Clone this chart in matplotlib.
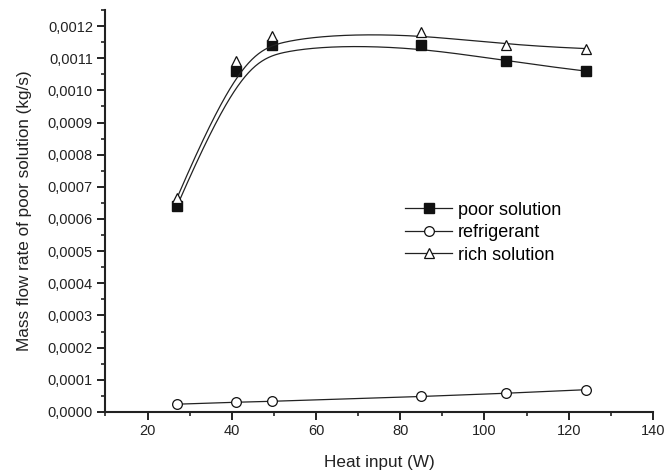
import matplotlib
matplotlib.use("Agg")
import matplotlib.pyplot as plt
import numpy as np
from matplotlib.ticker import MultipleLocator, FuncFormatter

plt.rcParams['font.family'] = ['Liberation Sans', 'DejaVu Sans']

heat_input = [27, 41, 49.5, 85, 105, 124]
poor_solution = [0.00064, 0.00106, 0.00114, 0.00114, 0.00109, 0.00106]
refrigerant = [0.000024, 0.000030, 0.000033, 0.000048, 0.000058, 0.000069]
rich_solution = [0.000665, 0.00109, 0.00117, 0.00118, 0.00114, 0.00113]


def bspline(x, y, n=400, deg=3):
    # clamped B-spline with the data points as control points (Origin style line)
    P = np.column_stack([x, y]).astype(float)
    k = len(P)
    knots = np.concatenate([np.zeros(deg), np.arange(k - deg + 1), np.full(deg, k - deg)]).astype(float)
    ts = np.linspace(0, k - deg, n)
    ts[-1] -= 1e-9

    def basis(i, p, t):
        if p == 0:
            return ((knots[i] <= t) & (t < knots[i + 1])).astype(float)
        out = np.zeros_like(t)
        d1 = knots[i + p] - knots[i]
        d2 = knots[i + p + 1] - knots[i + 1]
        if d1 > 0:
            out += (t - knots[i]) / d1 * basis(i, p - 1, t)
        if d2 > 0:
            out += (knots[i + p + 1] - t) / d2 * basis(i + 1, p - 1, t)
        return out

    B = np.array([basis(i, deg, ts) for i in range(k)])
    C = B.T @ P
    return C[:, 0], C[:, 1]


ink = '#222222'
fig, ax = plt.subplots(figsize=(6.67, 4.74), dpi=100)
fig.subplots_adjust(left=0.158, right=0.979, top=0.979, bottom=0.131)

xs, ys = bspline(heat_input, poor_solution)
ax.plot(xs, ys, color=ink, lw=0.9)
ax.plot(heat_input, poor_solution, ls='none', marker='s', ms=6.5, mfc='#111111', mec='#111111')
ax.plot([], [], color=ink, lw=0.9, marker='s', ms=6.5, mfc='#111111', mec='#111111', label='poor solution')

ax.plot(heat_input, refrigerant, color=ink, lw=0.9, marker='o', ms=7, mfc='white', mec='#111111',
        mew=0.9, label='refrigerant')

xs, ys = bspline(heat_input, rich_solution)
ax.plot(xs, ys, color=ink, lw=0.9)
ax.plot(heat_input, rich_solution, ls='none', marker='^', ms=7.5, mfc='white', mec='#111111', mew=0.9)
ax.plot([], [], color=ink, lw=0.9, marker='^', ms=7.5, mfc='white', mec='#111111', mew=0.9, label='rich solution')

ax.set_xlim(10, 140)
ax.set_ylim(0, 0.00125)
ax.xaxis.set_major_locator(MultipleLocator(20))
ax.xaxis.set_minor_locator(MultipleLocator(10))
ax.yaxis.set_major_locator(MultipleLocator(0.0001))
ax.yaxis.set_minor_locator(MultipleLocator(0.00005))
ax.yaxis.set_major_formatter(FuncFormatter(lambda v, p: ('%.4f' % v).replace('.', ',')))
ax.xaxis.set_major_formatter(FuncFormatter(lambda v, p: '%d' % round(v)))

for s in ['top', 'right']:
    ax.spines[s].set_visible(False)
for s in ['left', 'bottom']:
    ax.spines[s].set_linewidth(1.5)
    ax.spines[s].set_color(ink)
ax.tick_params(which='major', direction='out', length=5.5, width=1.4, labelsize=10.5, colors=ink)
ax.tick_params(which='minor', direction='out', length=3, width=1.2, colors=ink)

ax.set_xlabel('Heat input (W)', fontsize=12.3, color=ink, labelpad=12)
ax.set_ylabel('Mass flow rate of poor solution (kg/s)', fontsize=12.3, color=ink, labelpad=11)

ax.legend(loc='upper left', bbox_to_anchor=(0.548, 0.523), frameon=False, fontsize=13,
          handlelength=2.6, handletextpad=0.3, labelspacing=0.3, borderaxespad=0, borderpad=0)

fig.savefig('out.png', dpi=100)
